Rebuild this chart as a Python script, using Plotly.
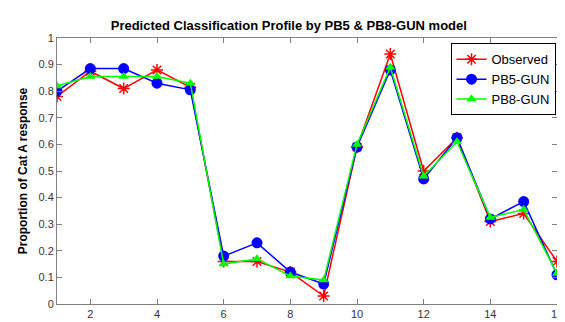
import plotly.graph_objects as go

x_vals = list(range(1, 17))
observed = [0.78, 0.875, 0.81, 0.88, 0.815, 0.16, 0.16, 0.12, 0.03, 0.59, 0.94, 0.50, 0.625, 0.31, 0.34, 0.16]
pb5_gun = [0.80, 0.885, 0.885, 0.83, 0.805, 0.18, 0.23, 0.12, 0.075, 0.59, 0.88, 0.47, 0.625, 0.32, 0.385, 0.11]
pb8_gun = [0.82, 0.855, 0.855, 0.855, 0.83, 0.15, 0.17, 0.105, 0.09, 0.60, 0.89, 0.48, 0.61, 0.325, 0.355, 0.115]
x_ticks = [2, 4, 6, 8, 10, 12, 14, 16]
y_ticks = [0, 0.1, 0.2, 0.3, 0.4, 0.5, 0.6, 0.7, 0.8, 0.9, 1]

fig = go.Figure()
fig.add_trace(go.Scatter(x=x_vals, y=observed, name="Observed", mode="lines+markers",
                         line=dict(color="#ff0000", width=1.5),
                         marker=dict(symbol="asterisk-open", size=10, color="#ff0000",
                                     line=dict(color="#ff0000", width=1.5))))
fig.add_trace(go.Scatter(x=x_vals, y=pb5_gun, name="PB5-GUN", mode="lines+markers",
                         line=dict(color="#0000ff", width=1.5),
                         marker=dict(symbol="circle", size=11, color="#0000ff")))
fig.add_trace(go.Scatter(x=x_vals, y=pb8_gun, name="PB8-GUN", mode="lines+markers",
                         line=dict(color="#00ff00", width=1.5),
                         marker=dict(symbol="triangle-up", size=9, color="#00ff00")))

axis_common = dict(showgrid=False, zeroline=False, showline=True, linecolor="#808080",
                   linewidth=1, mirror="ticks", ticks="inside", ticklen=5, tickcolor="#808080",
                   tickfont=dict(family="Liberation Sans, Arial", size=11, color="#333333"))

fig.update_layout(
    width=565, height=322,
    margin=dict(l=49, r=10, t=30, b=18),
    paper_bgcolor="white", plot_bgcolor="white",
    title=dict(text="<b>Predicted Classification Profile by PB5 & PB8-GUN model</b>",
               x=0.497, xanchor="center", y=0.947, yanchor="middle",
               font=dict(family="Liberation Sans, Arial", size=13, color="black")),
    xaxis=dict(range=[1, 16], tickvals=x_ticks, **axis_common),
    yaxis=dict(range=[0, 1], tickvals=y_ticks,
               title=dict(text="<b>Proportion of Cat A response</b>", standoff=8,
                          font=dict(family="Liberation Sans, Arial", size=12, color="black")),
               **axis_common),
    legend=dict(x=0.997, y=0.98, xanchor="right", yanchor="top",
                bgcolor="white", bordercolor="black", borderwidth=1,
                font=dict(family="Liberation Sans, Arial", size=13, color="black"),
                itemwidth=30, tracegroupgap=0),
    showlegend=True,
)

fig.write_html("out.html")
